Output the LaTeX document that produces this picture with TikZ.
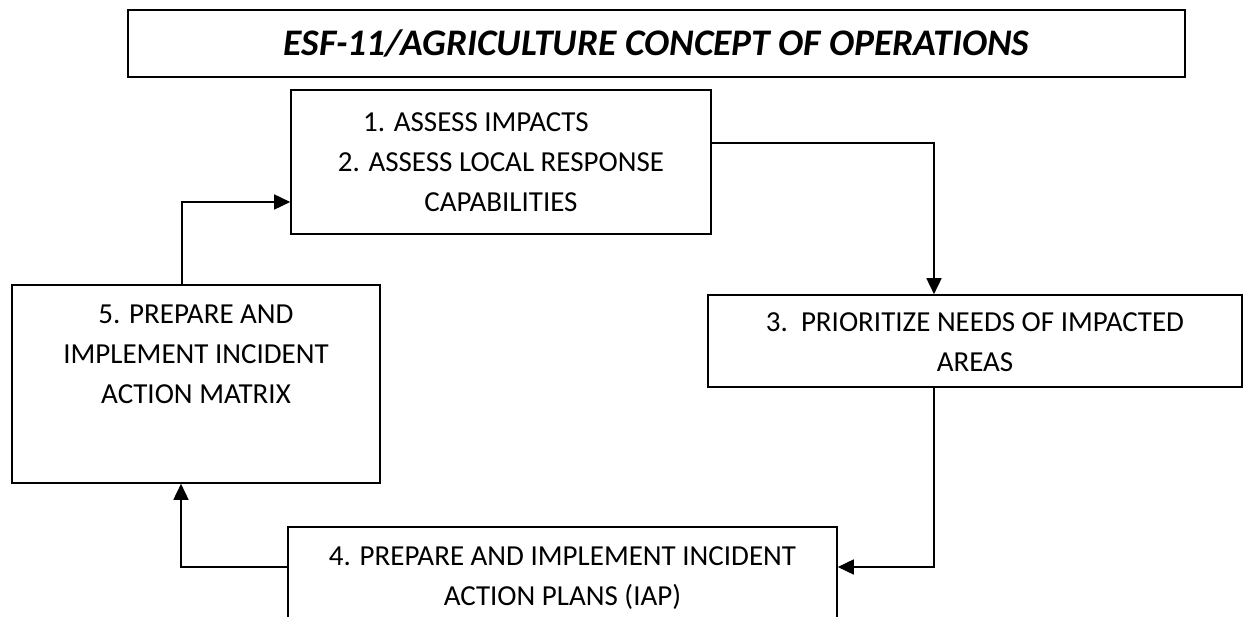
\documentclass[tikz,border=0pt]{standalone}
\usepackage{fontspec}
\setmainfont{Carlito}
\usetikzlibrary{arrows.meta,positioning}

\begin{document}
\begin{tikzpicture}[x=1pt,y=-1pt,
	box/.style={draw,line width=1.6pt,inner sep=0pt},
	txt/.style={align=center,inner sep=0pt,font=\fontsize{29}{40}\selectfont},
	flow/.style={line width=1.6pt,-{Triangle[length=16pt,width=15pt]}}]
\useasboundingbox (0,0) rectangle (1243,617);
\clip (0,0) rectangle (1243,617);

\path (656.5,43.5) node[box,minimum width=1057pt,minimum height=67pt,
			font=\fontsize{37.5}{40}\selectfont\bfseries\itshape] (title) {ESF-11/AGRICULTURE CONCEPT OF OPERATIONS}
		(501,162) node[box,minimum width=420pt,minimum height=144pt] (assess) {}
		(975,341) node[box,minimum width=534pt,minimum height=92pt] (prior) {}
		(562.5,593.5) node[box,minimum width=549pt,minimum height=133pt] (plans) {}
		(196,384) node[box,minimum width=368pt,minimum height=198pt] (matrix) {}
		;

\node[txt,below=23pt of assess.north] (assesstxt) {1. ASSESS IMPACTS\hspace*{50pt}\\2. ASSESS LOCAL RESPONSE\\CAPABILITIES};
\node[txt,below=18pt of prior.north] (priortxt) {3.\ \ PRIORITIZE NEEDS OF IMPACTED\\AREAS};
\node[txt,below=20pt of plans.north] (planstxt) {4. PREPARE AND IMPLEMENT INCIDENT\\ACTION PLANS (IAP)};
\node[txt,below=20pt of matrix.north] (matrixtxt) {5. PREPARE AND\\IMPLEMENT INCIDENT\\ACTION MATRIX};

\coordinate (c1) at (934,143);
\coordinate (c2) at (934,567);
\coordinate (c3) at (181,567);
\coordinate (c4) at (182,202);

\draw[flow] (assess.east |- c1) -- (c1) -- (c1 |- prior.north);
\draw[flow] (prior.south -| c2) -- (c2) -- (c2 -| plans.east);
\draw[flow] (plans.west |- c3) -- (c3) -- (c3 |- matrix.south);
\draw[flow] (matrix.north -| c4) -- (c4) -- (c4 -| assess.west);
\end{tikzpicture}
\end{document}
